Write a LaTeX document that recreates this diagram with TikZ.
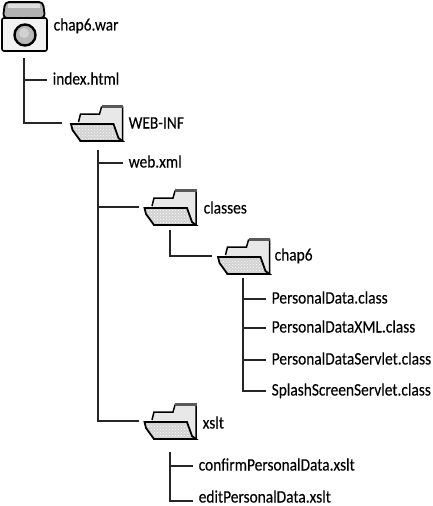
\documentclass[tikz,border=0pt]{standalone}
\usepackage{fontspec}
\setmainfont[FakeStretch=0.88,FakeBold=0.25]{Carlito}
\usetikzlibrary{patterns}

\tikzset{
    branch/.style={line width=1.5pt, draw=black!85},
    label/.style={anchor=west, inner xsep=5.5pt, inner ysep=0pt, text height=9pt, text depth=0pt, font=\fontsize{17.5}{19}\selectfont},
    iconbox/.style={minimum width=53pt, minimum height=37pt, inner sep=0pt, outer sep=0pt},
    folder/.pic={
        % back panel and tab
        \draw[line width=1.5pt, fill=gray!18] (-18,-1) -- (-16,-9) -- (3,-9) -- (5,-16) -- (26,-16) -- (26,18) -- (-17,18);
        \fill[black!65] (5,-18.5) rectangle (26.8,-15);
        % front flap
        \draw[line width=1.8pt, fill=gray!35] (-25.5,1) -- (17,1) -- (22,15) -- (26,18) -- (-16,18) -- (-24,7) -- cycle;
        \fill[pattern=crosshatch dots, pattern color=white] (-24,3) -- (16,3) -- (21,16) -- (-15,16) -- (-22,7) -- cycle;
    },
    warjar/.pic={
        % body
        \draw[line width=1.6pt, fill=gray!10, rounded corners=2pt] (-22,-9) rectangle (23,24);
        % lid
        \draw[line width=1.8pt, fill=gray!60, rounded corners=4pt] (-21,-9) -- (-19,-25) -- (19,-25) -- (21,-9) -- cycle;
        \fill[gray!25] (-16,-23.5) rectangle (16,-19.5);
        % seal
        \draw[line width=2.4pt, fill=gray!55] (1,8) circle (10.5pt);
        \fill[gray!35] (0,6) circle (5pt);
    },
}

\begin{document}
\begin{tikzpicture}[x=1pt,y=-1pt]
    \useasboundingbox (0,0) rectangle (432,506);

    % Icons
    \node[iconbox] (warIcon) at (24,27) {};
    \pic at (warIcon) {warjar};
    \node[iconbox] (webinfIcon) at (96.5,123) {};
    \pic at (webinfIcon) {folder};
    \node[iconbox] (classesIcon) at (170,207) {};
    \pic at (classesIcon) {folder};
    \node[iconbox] (chapIcon) at (243.5,256) {};
    \pic at (chapIcon) {folder};
    \node[iconbox] (xsltIcon) at (170,421) {};
    \pic at (xsltIcon) {folder};

    % Folder and archive names
    \node[label] (warLabel) at (48,26) {chap6.war};
    \node[label] (webinfLabel) at (123,124) {WEB-INF};
    \node[label] (classesLabel) at (198,209) {classes};
    \node[label] (chapLabel) at (269,256) {chap6};
    \node[label] (xsltLabel) at (197,424) {xslt};

    % File names
    \node[label] (indexLabel) at (47,80) {index.html};
    \node[label] (webxmlLabel) at (123,163) {web.xml};
    \node[label] (dataLabel) at (266,299) {PersonalData.class};
    \node[label] (xmlLabel) at (266,328) {PersonalDataXML.class};
    \node[label] (servletLabel) at (266,360) {PersonalDataServlet.class};
    \node[label] (splashLabel) at (266,391) {SplashScreenServlet.class};
    \node[label] (confirmLabel) at (193,466) {confirmPersonalData.xslt};
    \node[label] (editLabel) at (193,498) {editPersonalData.xslt};

    % Tops of the branches
    \coordinate (warStem) at (24,58);
    \coordinate (webinfStem) at (98,150);
    \coordinate (classesStem) at (170,230);
    \coordinate (chapStem) at (243,278);
    \coordinate (xsltStem) at (170,452);

    % Draw branches
    \draw[branch] (warStem) |- (indexLabel.west);
    \draw[branch, shorten >=8pt] (warStem) |- (webinfIcon.west);
    \draw[branch] (webinfStem) |- (webxmlLabel.west);
    \draw[branch, shorten >=5pt] (webinfStem) |- (classesIcon.west);
    \draw[branch, shorten >=5pt] (webinfStem) |- (xsltIcon.west);
    \draw[branch, shorten >=5pt] (classesStem) |- (chapIcon.west);
    \foreach \leaf in {dataLabel,xmlLabel,servletLabel,splashLabel}
        \draw[branch] (chapStem) |- (\leaf.west);
    \draw[branch] (xsltStem) |- (confirmLabel.west);
    \draw[branch] (xsltStem) |- ([yshift=-3pt]editLabel.west);

\end{tikzpicture}
\end{document}
